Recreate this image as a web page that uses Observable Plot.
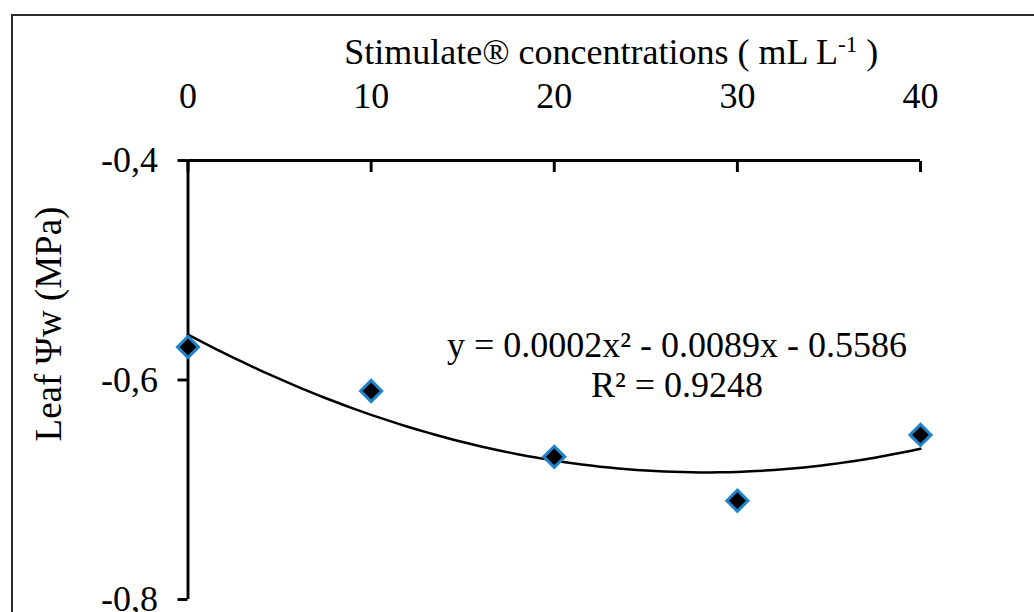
<!DOCTYPE html>
<html>
<head>
<meta charset="utf-8">
<script src="https://cdn.jsdelivr.net/npm/d3@7"></script>
<script src="https://cdn.jsdelivr.net/npm/@observablehq/plot@0.6"></script>
<style>
  html, body { margin: 0; padding: 0; background: #fff; }
  #wrap { position: relative; width: 1034px; height: 612px; overflow: hidden; background: #fff; }
  #border { position: absolute; left: 11px; top: 14px; width: 1100px; height: 700px; border: 2.5px solid #2b2b2b; box-sizing: border-box; }
  #wrap svg { position: absolute; left: 0; top: 0; }
</style>
</head>
<body>
<div id="wrap"><div id="border"></div></div>
<script>
// ---- data ----
const concentrations = [0, 10, 20, 30, 40];
const leafPsi = [-0.57, -0.61, -0.67, -0.71, -0.65];
const xTicks = [0, 10, 20, 30, 40];
const yTicks = [-0.4, -0.6, -0.8];
const xTitle = "Stimulate® concentrations ( mL L";
const xTitleSup = "-1";
const xTitleEnd = " )";
const yTitle = "Leaf Ψw (MPa)";
const eqLine1 = "y = 0.0002x² - 0.0089x - 0.5586";
const eqLine2 = "R² = 0.9248";

const points = concentrations.map((x, i) => ({x, y: leafPsi[i]}));

// quadratic least-squares trendline fitted to the points
function quadFit(pts) {
  let S = Array.from({length: 5}, () => 0), T = [0, 0, 0];
  for (const {x, y} of pts) {
    for (let k = 0; k < 5; k++) S[k] += x ** k;
    for (let k = 0; k < 3; k++) T[k] += y * x ** k;
  }
  const M = [[S[0], S[1], S[2], T[0]], [S[1], S[2], S[3], T[1]], [S[2], S[3], S[4], T[2]]];
  for (let i = 0; i < 3; i++) {
    for (let j = i + 1; j < 3; j++) {
      const f = M[j][i] / M[i][i];
      for (let k = i; k < 4; k++) M[j][k] -= f * M[i][k];
    }
  }
  const c = [0, 0, 0];
  for (let i = 2; i >= 0; i--) {
    let s = M[i][3];
    for (let k = i + 1; k < 3; k++) s -= M[i][k] * c[k];
    c[i] = s / M[i][i];
  }
  return c; // c0 + c1 x + c2 x^2
}
const [c0, c1, c2] = quadFit(points);
const xMin = d3.min(concentrations), xMax = d3.max(concentrations);
const trend = d3.range(xMin, xMax + 1e-9, 0.5).map(x => ({x, y: c0 + c1 * x + c2 * x * x}));

const fmt = d => d.toFixed(1).replace(".", ",");
const SW = 2.9;
const FONT = "'Liberation Serif', 'DejaVu Serif', 'Times New Roman', serif";

const chart = Plot.plot({
  width: 1034,
  height: 612,
  marginLeft: 187.5,
  marginRight: 114,
  marginTop: 160,
  marginBottom: 13,
  style: {fontFamily: FONT, fontSize: "35px", color: "#000", background: "transparent", overflow: "visible"},
  x: {domain: [0, 40], label: null},
  y: {domain: [-0.8, -0.4], label: null},
  marks: [
    Plot.ruleY([-0.4], {stroke: "#000", strokeWidth: SW}),
    Plot.ruleX([0], {stroke: "#000", strokeWidth: SW}),
    Plot.axisX({anchor: "top", ticks: xTicks, tickSize: -11, strokeWidth: SW, text: null, label: null}),
    Plot.axisX({anchor: "top", ticks: xTicks, tickSize: 0, tickPadding: 53, fontSize: 36, label: null, tickFormat: d => String(d)}),
    Plot.axisY({anchor: "left", ticks: yTicks, tickSize: 10, tickPadding: 20, strokeWidth: SW, fontSize: 36, tickFormat: fmt, label: null}),
    Plot.line(trend, {x: "x", y: "y", stroke: "#000", strokeWidth: 2.5, curve: "linear"}),
    Plot.dot(points, {x: "x", y: "y", symbol: "diamond2", r: 9.5, fill: "#000", stroke: "#1f83cc", strokeWidth: 3}),
    Plot.text([eqLine1], {x: 26.7, y: -0.5686, fontSize: 36, textAnchor: "middle", lineAnchor: "middle"}),
    Plot.text([eqLine2], {x: 26.7, y: -0.5686, dy: 40, fontSize: 36, textAnchor: "middle", lineAnchor: "middle"}),
    Plot.text([yTitle], {frameAnchor: "left", dx: -139, dy: -56, rotate: -90, fontSize: 37, textAnchor: "middle", lineAnchor: "middle"}),
    Plot.text([xTitle], {frameAnchor: "top", dx: 57, dy: -108, fontSize: 36, textAnchor: "middle", lineAnchor: "middle", className: "xtitle"})
  ]
});

document.getElementById("wrap").appendChild(chart);

// add the superscript "-1" to the axis title
const tt = chart.querySelector(".xtitle text");
if (tt) {
  tt.textContent = xTitle;
  const sup = document.createElementNS("http://www.w3.org/2000/svg", "tspan");
  sup.setAttribute("baseline-shift", "super");
  sup.setAttribute("font-size", "23");
  sup.textContent = xTitleSup;
  tt.appendChild(sup);
  const end = document.createElementNS("http://www.w3.org/2000/svg", "tspan");
  end.textContent = xTitleEnd;
  tt.appendChild(end);
}
</script>
</body>
</html>
